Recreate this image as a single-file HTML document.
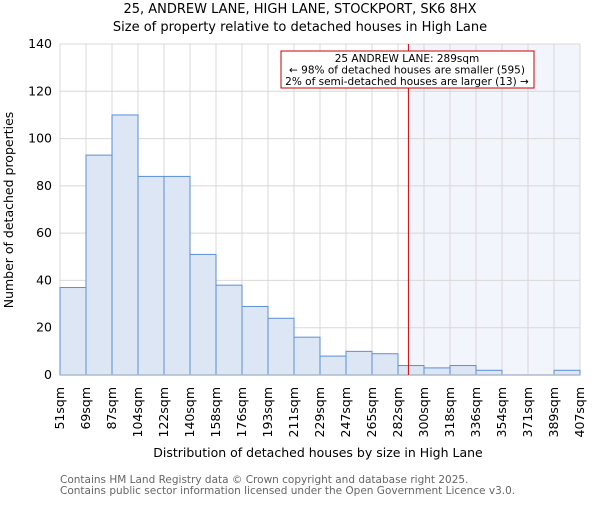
<!DOCTYPE html>
<html><head><meta charset="utf-8"><style>
body{margin:0;background:#fff}
svg text{font-family:"DejaVu Sans","Liberation Sans",sans-serif}
</style></head><body>
<svg id="chart" width="600" height="500" xmlns="http://www.w3.org/2000/svg">
<text x="300" y="13" text-anchor="middle" font-size="13">25, ANDREW LANE, HIGH LANE, STOCKPORT, SK6 8HX</text>
<text x="300" y="31" text-anchor="middle" font-size="13">Size of property relative to detached houses in High Lane</text>
<g id="plot"></g>
<text x="318" y="457" text-anchor="middle" font-size="12.5">Distribution of detached houses by size in High Lane</text>
<text transform="translate(13,210) rotate(-90)" text-anchor="middle" font-size="12.5">Number of detached properties</text>
<text x="60" y="483" font-size="10.5" fill="#666">Contains HM Land Registry data © Crown copyright and database right 2025.</text>
<text x="60" y="494" font-size="10.5" fill="#666">Contains public sector information licensed under the Open Government Licence v3.0.</text>
</svg>
<script>
const tickLabels=["51sqm","69sqm","87sqm","104sqm","122sqm","140sqm","158sqm","176sqm","193sqm","211sqm","229sqm","247sqm","265sqm","282sqm","300sqm","318sqm","336sqm","354sqm","371sqm","389sqm","407sqm"];
const counts=[37,93,110,84,84,51,38,29,24,16,8,10,9,4,3,4,2,0,0,2];
const yTicks=[0,20,40,60,80,100,120,140];
const propertyBin=13.4;
const NS="http://www.w3.org/2000/svg";
const X0=60,X1=580,Y0=375,Y1=44,YMAX=140;
const nb=counts.length;
const xs=i=>X0+(X1-X0)*i/nb;
const ys=v=>Y0-(Y0-Y1)*v/YMAX;
const g=document.getElementById('plot');
function mk(t,a){const e=document.createElementNS(NS,t);for(const k in a)e.setAttribute(k,a[k]);g.appendChild(e);return e;}
const px=xs(propertyBin);
let sh=mk('rect',{x:px,y:Y1,width:X1-px,height:Y0-Y1,fill:'#f3f5fd'});


yTicks.forEach(v=>{
 let l=mk('line',{x1:X0,x2:X1,y1:ys(v),y2:ys(v),stroke:'#d8d8d8','stroke-width':1});
 
 
 let t=mk('text',{x:X0-8,y:ys(v)+4,'text-anchor':'end','font-size':12.5});
 t.textContent=v;
 
 
});
tickLabels.forEach((s,i)=>{
 let l=mk('line',{x1:xs(i),x2:xs(i),y1:Y1,y2:Y0,stroke:'#d8d8d8','stroke-width':1});
 
 
 let t=mk('text',{transform:`translate(${xs(i)+4},387) rotate(-90)`,'text-anchor':'end','font-size':12.5});
 t.textContent=s;
 
 
});
counts.forEach((c,i)=>{
 if(c<=0)return;
 let r=mk('rect',{x:xs(i),y:ys(c),width:xs(i+1)-xs(i),height:Y0-ys(c),fill:'#dce6f4',stroke:'#5b8fd9','stroke-width':1});
 
 
});
let ax=mk('line',{x1:X0,x2:X1,y1:Y0,y2:Y0,stroke:'#b0b8c8','stroke-width':1.5});


let rl=mk('line',{x1:px,x2:px,y1:Y1,y2:Y0,stroke:'#cc0000','stroke-width':1});


let box=mk('rect',{x:281,y:51,width:253,height:37,fill:'#fff',stroke:'#cc0000','stroke-width':1});


["25 ANDREW LANE: 289sqm","← 98% of detached houses are smaller (595)","2% of semi-detached houses are larger (13) →"].forEach((s,i)=>{
 let t=mk('text',{x:407,y:62+i*11.5,'text-anchor':'middle','font-size':10.5});
 t.textContent=s;
 
 
});
</script>
</body></html>
